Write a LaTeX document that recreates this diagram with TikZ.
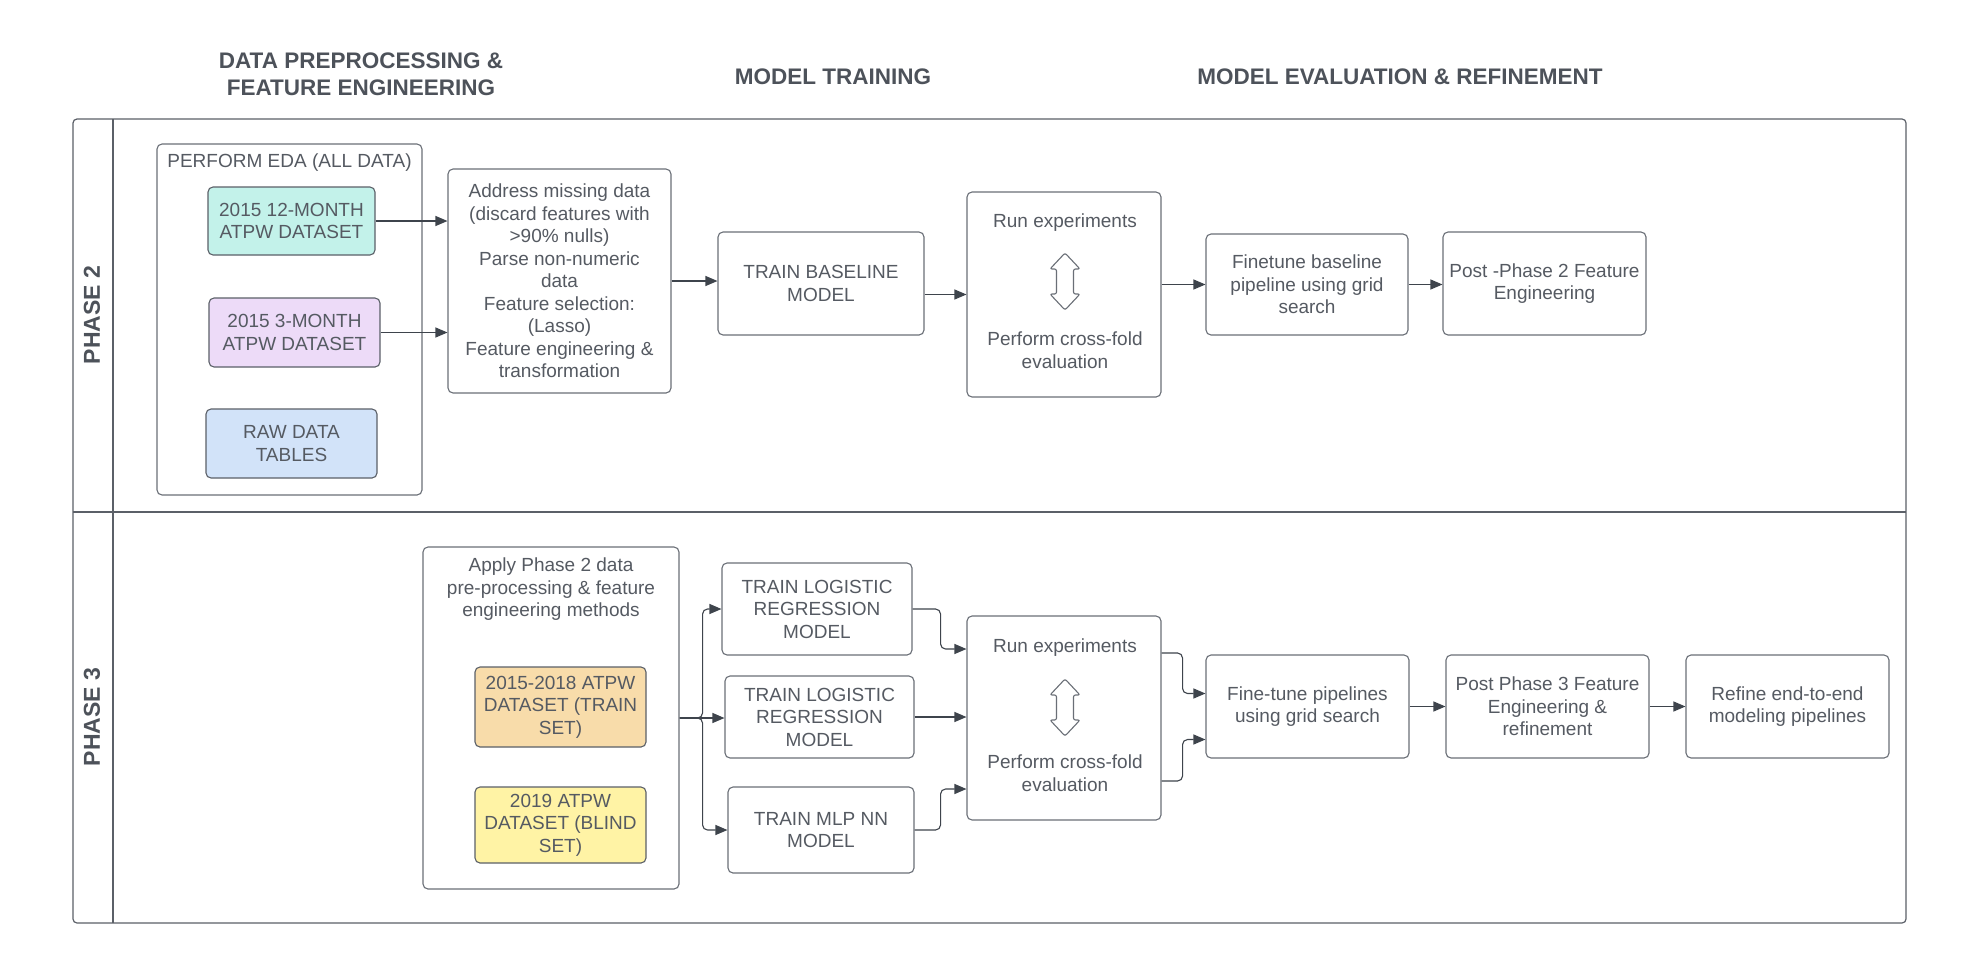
\documentclass[tikz,border=0pt]{standalone}
\usepackage{fontspec}
\setmainfont{Liberation Sans}
\usetikzlibrary{arrows.meta,calc}

\definecolor{framec}{HTML}{5B6068}
\definecolor{boxc}{HTML}{6A6F77}
\definecolor{linec}{HTML}{3E444C}
\definecolor{txtc}{HTML}{555A62}
\definecolor{headc}{HTML}{4D525A}
\definecolor{tealf}{HTML}{C3F2EA}
\definecolor{lavf}{HTML}{EDDBF8}
\definecolor{bluef}{HTML}{D2E3F9}
\definecolor{orangef}{HTML}{F8DCAA}
\definecolor{yellowf}{HTML}{FFF3A5}

\newcommand\boxfont{\fontsize{19}{22.5}\selectfont}
\newcommand\headfont{\fontsize{22.5}{27}\selectfont\bfseries}

% vertical two-headed block arrow: centre x, top y, bottom y
\newcommand\updown[3]{%
  \draw[draw=boxc, line width=1.1pt, fill=white, rounded corners=2pt]
    (#1,#2) -- (#1+15,#2+16) -- (#1+8.5,#2+16) -- (#1+8.5,#3-16)
    -- (#1+15,#3-16) -- (#1,#3) -- (#1-15,#3-16) -- (#1-8.5,#3-16)
    -- (#1-8.5,#2+16) -- (#1-15,#2+16) -- cycle;}

\begin{document}
\begin{tikzpicture}[x=1pt, y=-1pt,
  box/.style={draw=boxc, line width=1.1pt, rounded corners=5pt, fill=white,
    align=center, text=txtc, font=\boxfont, inner sep=0pt},
  plain/.style={align=center, text=txtc, font=\boxfont, inner sep=0pt},
  head/.style={align=center, text=headc, font=\headfont, inner sep=0pt},
  lane/.style={text=headc, font=\fontsize{23}{27}\selectfont\bfseries,
    rotate=90, inner sep=0pt},
  arr/.style={draw=linec, line width=1.1pt,
    -{Triangle[length=12pt, width=10pt]}},
  branch/.style={arr, rounded corners=5pt}]

\useasboundingbox (0,0) rectangle (1980,964);
\fill[white] (0,0) rectangle (1980,964);

% column headings
\node[head] (h1) at (361,74.5) {DATA PREPROCESSING \&\\FEATURE ENGINEERING};
\node[head] (h2) at (833,77) {MODEL TRAINING};
\node[head] (h3) at (1400,77) {MODEL EVALUATION \& REFINEMENT};

% swimlane frame
\draw[framec, line width=1.2pt, rounded corners=4pt] (73,119) rectangle (1906,923);
\draw[framec, line width=1.2pt] (113,119) -- (113,923);
\draw[framec, line width=1.2pt] (73,512) -- (1906,512);
\node[lane] (p2) at (92,315) {PHASE 2};
\node[lane] (p3) at (92,717) {PHASE 3};

% ---------------- Phase 2 ----------------
\node[box, minimum width=265, minimum height=351] (eda) at (289.5,319.5) {};
\node[plain] (edat) at (289.5,163) {PERFORM EDA (ALL DATA)};
\node[box, fill=tealf, draw=framec, minimum width=167, minimum height=68]
  (m12) at (291.5,221) {2015 12-MONTH\\ATPW DATASET};
\node[box, fill=lavf, draw=framec, minimum width=171, minimum height=69]
  (m3) at (294.5,332.5) {2015 3-MONTH\\ATPW DATASET};
\node[box, fill=bluef, draw=framec, minimum width=171, minimum height=69]
  (raw) at (291.5,443.5) {RAW DATA\\TABLES};

\node[box, minimum width=223, minimum height=224] (addr) at (559.5,281)
  {Address missing data\\(discard features with\\>90\% nulls)\\Parse non-numeric\\data\\Feature selection:\\(Lasso)\\Feature engineering \&\\transformation};
\node[box, minimum width=206, minimum height=103] (base) at (821,283.5)
  {TRAIN BASELINE\\MODEL};
\node[box, minimum width=194, minimum height=205] (run1) at (1064,294.5) {};
\node[plain] (run1a) at (1065,223) {Run experiments};
\node[plain] (run1b) at (1065,350) {Perform cross-fold\\evaluation};
\updown{1065}{253}{310}
\node[box, minimum width=202, minimum height=101] (fine1) at (1307,284.5)
  {Finetune baseline\\pipeline using grid\\search};
\node[box, minimum width=203, minimum height=103] (post2) at (1544.5,283.5)
  {Post -Phase 2 Feature\\Engineering};

\draw[arr] (m12.east) -- (m12.east -| addr.west);
\draw[arr] (m3.east) -- (m3.east -| addr.west);
\draw[arr] (addr.east) -- (addr.east -| base.west);
\draw[arr] (base.east |- run1.west) -- (run1.west);
\draw[arr] (run1.east |- fine1.west) -- (fine1.west);
\draw[arr] (fine1.east) -- (fine1.east -| post2.west);

% ---------------- Phase 3 ----------------
\node[box, minimum width=256, minimum height=342] (apply) at (551,718) {};
\node[plain] (applyt) at (551,589.5)
  {Apply Phase 2 data\\pre-processing \& feature\\engineering methods};
\node[box, fill=orangef, draw=framec, minimum width=171, minimum height=80]
  (trn) at (560.5,707) {2015-2018 ATPW\\DATASET (TRAIN\\SET)};
\node[box, fill=yellowf, draw=framec, minimum width=171, minimum height=76]
  (blind) at (560.5,825) {2019 ATPW\\DATASET (BLIND\\SET)};

\node[box, minimum width=190, minimum height=92] (lr1) at (817,609)
  {TRAIN LOGISTIC\\REGRESSION\\MODEL};
\node[box, minimum width=189, minimum height=82] (lr2) at (819.5,717)
  {TRAIN LOGISTIC\\REGRESSION\\MODEL};
\node[box, minimum width=186, minimum height=86] (mlp) at (821,830)
  {TRAIN MLP NN\\MODEL};

\node[box, minimum width=194, minimum height=204] (run2) at (1064,718) {};
\node[plain] (run2a) at (1065,648) {Run experiments};
\node[plain] (run2b) at (1065,773) {Perform cross-fold\\evaluation};
\updown{1065}{679}{736}

\node[box, minimum width=203, minimum height=103] (fine2) at (1307.5,706.5)
  {Fine-tune pipelines\\using grid search};
\node[box, minimum width=203, minimum height=103] (post3) at (1547.5,706.5)
  {Post Phase 3 Feature\\Engineering \&\\refinement};
\node[box, minimum width=203, minimum height=103] (refine) at (1787.5,706.5)
  {Refine end-to-end\\modeling pipelines};

\draw[branch] (apply.east) -- ++(23,0) |- (lr1.west);
\draw[arr] (apply.east) -- (apply.east -| lr2.west);
\draw[branch] (apply.east) -- ++(23,0) |- (mlp.west);

\draw[branch] (lr1.east) -- ++(28,0) |- ($(run2.west)+(0,-69)$);
\draw[arr] (lr2.east) -- (lr2.east -| run2.west);
\draw[branch] (mlp.east) -- ++(26,0) |- ($(run2.west)+(0,71)$);

\draw[branch] ($(run2.east)+(0,-65)$) -- ++(21,0) |- ($(fine2.west)+(0,-13)$);
\draw[branch] ($(run2.east)+(0,63)$) -- ++(21,0) |- ($(fine2.west)+(0,33)$);
\draw[arr] (fine2.east) -- (post3.west);
\draw[arr] (post3.east) -- (refine.west);

\end{tikzpicture}
\end{document}
